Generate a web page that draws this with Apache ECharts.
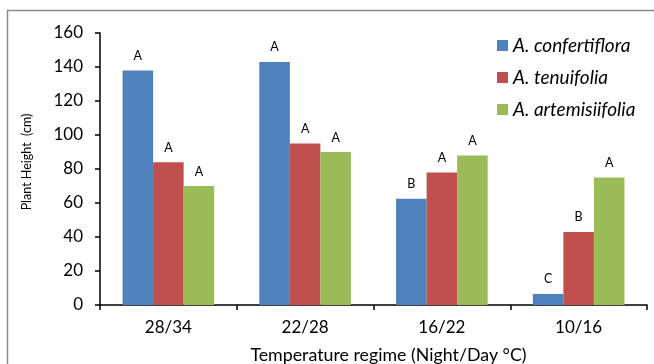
<!DOCTYPE html>
<html><head><meta charset="utf-8">
<script src="https://cdn.jsdelivr.net/npm/echarts@6/dist/echarts.min.js"></script>
<style>html,body{margin:0;padding:0;background:#fff}#c{width:654px;height:364px}</style>
</head><body><div id="c"></div>
<script>
var categories = ['28/34', '22/28', '16/22', '10/16'];
var confertiflora = [138, 143, 62.5, 6.5];
var tenuifolia = [84, 95, 78, 43];
var artemisiifolia = [70, 90, 88, 75];
var lettersConf = ['A', 'A', 'B', 'C'];
var lettersTen = ['A', 'A', 'A', 'B'];
var lettersArt = ['A', 'A', 'A', 'A'];
var yTicks = [0, 20, 40, 60, 80, 100, 120, 140, 160];

var FONT = 'Lato, "Open Sans", sans-serif';
function mk(name, data, letters, color) {
  return {
    name: name, type: 'bar', data: data, barGap: '0%', barCategoryGap: '33%',
    itemStyle: { color: color },
    label: { show: true, position: 'top', distance: 8, color: '#000', fontSize: 12.5, fontFamily: FONT,
      formatter: function (p) { return letters[p.dataIndex]; } }
  };
}
var chart = echarts.init(document.getElementById('c'));
chart.setOption({
  animation: false,
  graphic: [{ type: 'rect', shape: { x: 7.5, y: 10.5, width: 700, height: 400 }, style: { fill: 'none', stroke: '#8a8a8a', lineWidth: 1.5 }, z: 0 }],
  grid: { left: 100, right: 7, top: 33, bottom: 59, containLabel: false, outerBoundsMode: 'none' },
  legend: {
    orient: 'vertical', left: 497, top: 36, padding: 0, itemWidth: 11, itemHeight: 11, itemGap: 13,
    icon: 'rect',
    textStyle: { fontSize: 19, fontStyle: 'italic', fontFamily: FONT, color: '#000' },
    data: ['A. confertiflora', 'A. tenuifolia', 'A. artemisiifolia']
  },
  xAxis: {
    type: 'category', data: categories,
    name: 'Temperature regime (Night/Day °C)', nameLocation: 'middle', nameGap: 41,
    nameTextStyle: { fontSize: 17.8, fontFamily: FONT, color: '#000', padding: [0, 0, 0, 30] },
    axisLine: { lineStyle: { color: '#000', width: 1.5 } },
    axisTick: { show: true, inside: false, length: 5, lineStyle: { color: '#000', width: 1.5 } },
    axisLabel: { fontSize: 17, fontFamily: FONT, color: '#000', margin: 14 }
  },
  yAxis: {
    type: 'value', min: yTicks[0], max: yTicks[yTicks.length - 1], interval: 20,
    name: 'Plant Height  (cm)', nameLocation: 'middle', nameGap: 67,
    nameTextStyle: { fontSize: 12.5, fontFamily: FONT, color: '#000', padding: [0, 0, 0, 14] },
    axisLine: { show: true, lineStyle: { color: '#000', width: 1.5 } },
    axisTick: { show: true, length: 5, lineStyle: { color: '#000', width: 1.5 } },
    splitLine: { show: false },
    axisLabel: { fontSize: 17, fontFamily: FONT, color: '#000', margin: 17 }
  },
  series: [
    mk('A. confertiflora', confertiflora, lettersConf, '#4F81BD'),
    mk('A. tenuifolia', tenuifolia, lettersTen, '#C0504D'),
    mk('A. artemisiifolia', artemisiifolia, lettersArt, '#9BBB59')
  ]
});
</script></body></html>
